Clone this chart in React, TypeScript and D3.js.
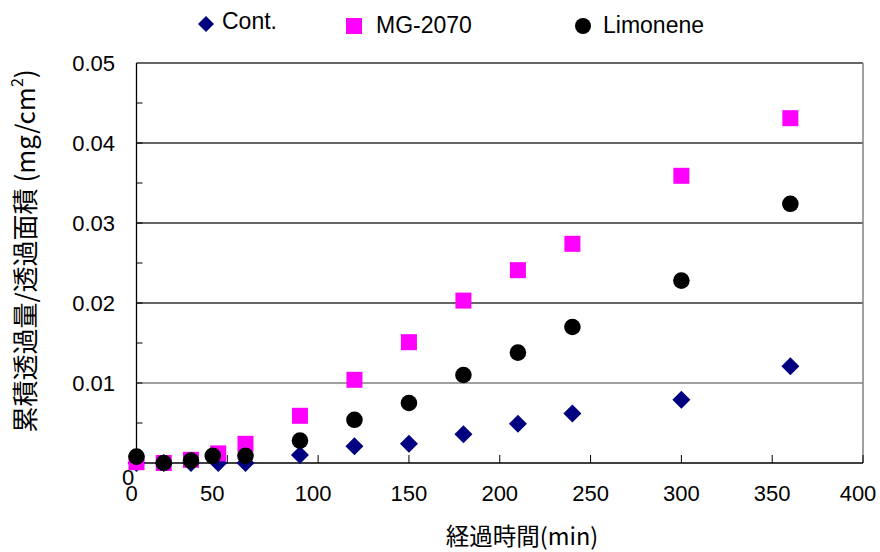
import React from "react";
import * as d3 from "d3";

const timesStd = [0, 15, 30, 45, 60, 90, 120, 150, 180, 210, 240, 300, 360];
const timesLim = [0, 15, 30, 42, 60, 90, 120, 150, 180, 210, 240, 300, 360];
const contValues = [0, 0, 0, 0, 0, 0.001, 0.0021, 0.0024, 0.0036, 0.0049, 0.0062, 0.0079, 0.0121];
const mgValues = [0.0001, 0, 0.0004, 0.0012, 0.0024, 0.0059, 0.0104, 0.0151, 0.0203, 0.0241, 0.0274, 0.0359, 0.0431];
const limValues = [0.0008, 0, 0.0003, 0.0009, 0.0009, 0.0028, 0.0054, 0.0075, 0.011, 0.0138, 0.017, 0.0228, 0.0324];
const xTicks = [0, 50, 100, 150, 200, 250, 300, 350, 400];
const yTicks = [0.01, 0.02, 0.03, 0.04, 0.05];
const yMinorTicks = [0.005, 0.01, 0.015, 0.02, 0.025, 0.03, 0.035, 0.04, 0.045];
const seriesNames = ["Cont.", "MG-2070", "Limonene"];

const W = 880;
const H = 552;
const L = 136.5, R = 863, T = 63, B = 463;

const NUM_FONT = "'Liberation Sans', Arial, sans-serif";
const CJK_FONT = "'Noto Sans CJK JP', 'Noto Sans', sans-serif";

const x = d3.scaleLinear().domain([0, 400]).range([L, R]);
const y = d3.scaleLinear().domain([0, 0.05]).range([B, T]);

const diamondPath = (cx: number, cy: number, h: number) =>
  `M${cx},${cy - h}L${cx + h},${cy}L${cx},${cy + h}L${cx - h},${cy}Z`;

const xLabelShift: Record<number, number> = { 0: -5, 50: -15, 100: -5, 400: -5 };

export default function App() {
  return (
    <svg
      width={W}
      height={H}
      style={{ position: "absolute", left: 0, top: 0, background: "#fff" }}
    >
      <rect x={0} y={0} width={W} height={H} fill="#fff" />
      {yTicks.map((t) => (
        <line
          key={"g" + t}
          x1={L}
          x2={R}
          y1={y(t)}
          y2={y(t)}
          stroke={t === 0.01 ? "#808080" : "#333"}
          strokeWidth={1.3}
        />
      ))}
      <line x1={R} x2={R} y1={T} y2={B} stroke="#808080" strokeWidth={1.5} />
      <line x1={L} x2={L} y1={T} y2={B} stroke="#000" strokeWidth={1.3} />
      <line x1={L} x2={R} y1={B} y2={B} stroke="#000" strokeWidth={1.3} />
      {yMinorTicks.map((t) => (
        <line key={"yt" + t} x1={L} x2={L + 6} y1={y(t)} y2={y(t)} stroke="#000" strokeWidth={1} />
      ))}
      {xTicks.slice(1).map((t) => (
        <line key={"xt" + t} x1={x(t)} x2={x(t)} y1={B} y2={B - 8} stroke="#000" strokeWidth={1} />
      ))}
      {yTicks.map((t) => (
        <text
          key={"yl" + t}
          x={115}
          y={y(t)}
          dy="0.36em"
          textAnchor="end"
          fontFamily={NUM_FONT}
          fontSize={22}
          fill="#000"
        >
          {t.toFixed(2)}
        </text>
      ))}
      <text x={128} y={y(0) + 14} dy="0.36em" textAnchor="middle" fontFamily={NUM_FONT} fontSize={22} fill="#000">
        0
      </text>
      {xTicks.map((t) => (
        <text
          key={"xl" + t}
          x={x(t) + (xLabelShift[t] || 0)}
          y={B + 30}
          dy="0.36em"
          textAnchor="middle"
          fontFamily={NUM_FONT}
          fontSize={22}
          fill="#000"
        >
          {t}
        </text>
      ))}
      {timesStd.map((t, i) => (
        <path key={"c" + i} d={diamondPath(x(t), y(contValues[i]), 9)} fill="#000080" />
      ))}
      {timesStd.map((t, i) => (
        <rect key={"m" + i} x={x(t) - 8} y={y(mgValues[i]) - 8} width={16} height={16} fill="#FF00FF" />
      ))}
      {timesLim.map((t, i) => (
        <circle key={"l" + i} cx={x(t)} cy={y(limValues[i])} r={8.3} fill="#000" />
      ))}
      <path d={diamondPath(206, 24, 8)} fill="#000080" />
      <text x={222} y={29} fontFamily={NUM_FONT} fontSize={23} fill="#000">
        {seriesNames[0]}
      </text>
      <rect x={346} y={18} width={16} height={16} fill="#FF00FF" />
      <text x={376} y={33} fontFamily={NUM_FONT} fontSize={23} fill="#000">
        {seriesNames[1]}
      </text>
      <circle cx={583} cy={26} r={8} fill="#000" />
      <text x={603} y={33} fontFamily={NUM_FONT} fontSize={23} fill="#000">
        {seriesNames[2]}
      </text>
      <text x={522} y={545} textAnchor="middle" fontFamily={CJK_FONT} fontSize={23.5} fill="#000">
        経過時間(min)
      </text>
      <text
        transform="translate(35,251) rotate(-90)"
        textAnchor="middle"
        fontFamily={CJK_FONT}
        fontSize={26}
        fill="#000"
      >
        累積透過量/透過面積 (mg/cm
        <tspan fontSize={16} baselineShift="super">2</tspan>)
      </text>
    </svg>
  );
}
